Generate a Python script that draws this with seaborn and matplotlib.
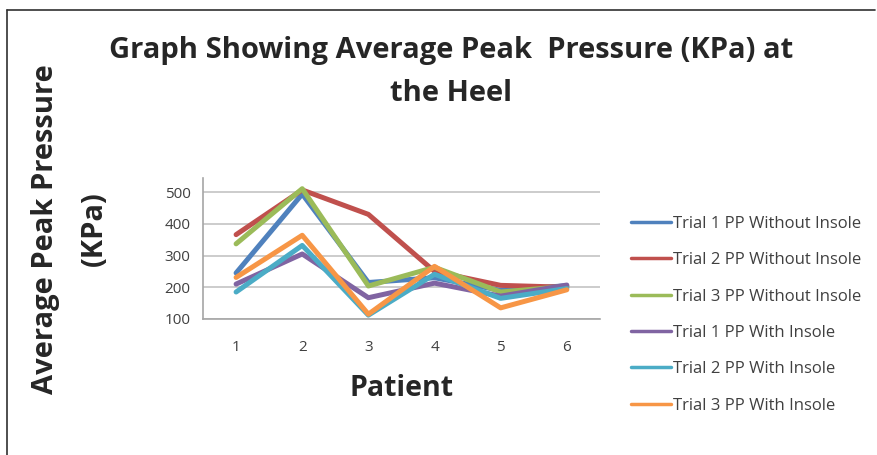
import pandas as pd
import matplotlib
matplotlib.use("Agg")
import matplotlib.pyplot as plt
import seaborn as sns
from matplotlib.ticker import FixedLocator

# === Datos ===
pacientes = [1, 2, 3, 4, 5, 6]
series = [
    "Trial 1 PP Without Insole",
    "Trial 2 PP Without Insole",
    "Trial 3 PP Without Insole",
    "Trial 1 PP With Insole",
    "Trial 2 PP With Insole",
    "Trial 3 PP With Insole",
]
t1_sin = [245, 494, 215, 230, 190, 205]
t2_sin = [366, 507, 430, 250, 206, 200]
t3_sin = [337, 511, 204, 263, 185, 203]
t1_con = [210, 305, 167, 213, 172, 207]
t2_con = [185, 332, 112, 241, 165, 196]
t3_con = [231, 364, 115, 266, 135, 192]
colores = ["#4F81BD", "#C0504D", "#9BBB59", "#8064A2", "#4BACC6", "#F79646"]

df = pd.DataFrame({
    "Patient": pacientes * 6,
    "PP": t1_sin + t2_sin + t3_sin + t1_con + t2_con + t3_con,
    "serie": [s for s in series for _ in pacientes],
})

sns.set_style("white")
plt.rcParams["font.family"] = ["Open Sans", "DejaVu Sans"]

fig = plt.figure(figsize=(8.77, 4.55), dpi=100)
ax = fig.add_axes([0.2315, 0.299, 0.4525, 0.31])

sns.lineplot(data=df, x="Patient", y="PP", hue="serie", hue_order=series,
             palette=colores, linewidth=3.6, ax=ax, legend=True)

ax.set_xlim(0.5, 6.5)
ax.set_ylim(100, 545)
ax.set_yticks([100, 200, 300, 400, 500])
ax.set_xticks(pacientes)
ax.xaxis.set_minor_locator(FixedLocator([0.5, 1.5, 2.5, 3.5, 4.5, 5.5, 6.5]))
ax.tick_params(axis="x", which="major", length=0, pad=15, labelsize=11, labelcolor="#404040")
ax.tick_params(axis="x", which="minor", length=5, color="#A6A6A6", width=1.2, direction="out")
ax.tick_params(axis="y", length=5, color="#A6A6A6", width=1.2, direction="out",
               labelsize=11, labelcolor="#404040", pad=4)
ax.grid(axis="y", color="#C8C8C8", linewidth=1.3)
ax.set_axisbelow(True)
for s in ["top", "right"]:
    ax.spines[s].set_visible(False)
for s in ["left", "bottom"]:
    ax.spines[s].set_color("#A6A6A6")
    ax.spines[s].set_linewidth(1.2)

ax.set_xlabel("Patient", fontsize=20.5, fontweight="bold", labelpad=14)
ax.set_ylabel("")

fig.text(0.514, 0.89, "Graph Showing Average Peak  Pressure (KPa) at",
         ha="center", va="center", fontsize=21, fontweight="bold")
fig.text(0.514, 0.795, "the Heel", ha="center", va="center", fontsize=21, fontweight="bold")
fig.text(0.052, 0.497, "Average Peak Pressure", rotation=90, ha="center", va="center",
         fontsize=21, fontweight="bold")
fig.text(0.108, 0.497, "(KPa)", rotation=90, ha="center", va="center",
         fontsize=21, fontweight="bold")

# leyenda a la derecha
handles, labels = ax.get_legend_handles_labels()
ax.legend_.remove()
leg = fig.legend(handles, labels, loc="upper left", bbox_to_anchor=(0.712, 0.54),
                 frameon=False, fontsize=12, handlelength=2.4, handletextpad=0.12,
                 labelspacing=1.22, borderaxespad=0)
for t in leg.get_texts():
    t.set_color("#404040")
for l in leg.get_lines():
    l.set_linewidth(2.5)

# marco del grafico (solo izquierda y arriba visibles)
fig.add_artist(plt.Line2D([0.008, 0.008], [0.0, 0.978], color="#303030", lw=1.2))
fig.add_artist(plt.Line2D([0.008, 0.998], [0.978, 0.978], color="#303030", lw=1.2))

fig.savefig("out.png", dpi=100)
